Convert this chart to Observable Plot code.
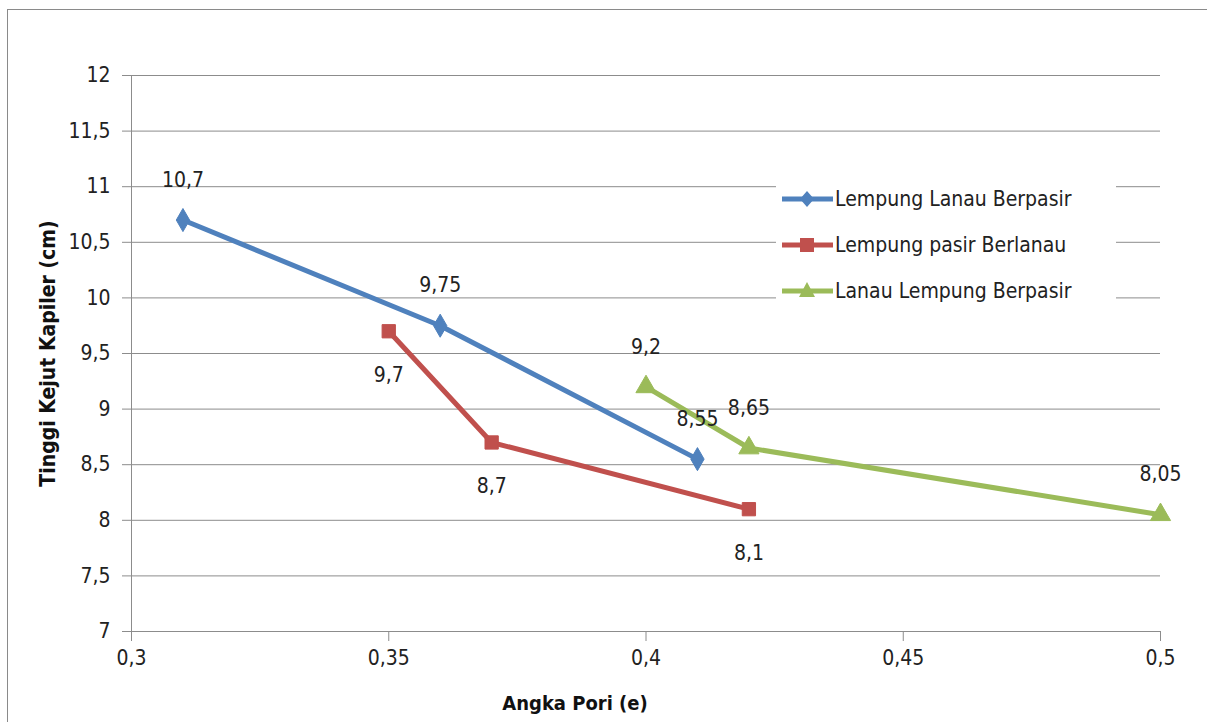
<!DOCTYPE html>
<html>
<head>
<meta charset="utf-8">
<script src="https://cdn.jsdelivr.net/npm/d3@7"></script>
<script src="https://cdn.jsdelivr.net/npm/@observablehq/plot@0.6"></script>
<style>
  html, body { margin: 0; padding: 0; background: #fff; }
  #wrap { position: relative; width: 1207px; height: 722px; overflow: hidden; font-family: "Liberation Sans Narrow", "DejaVu Sans Condensed", "Liberation Sans", sans-serif; }
  #border { position: absolute; left: 7px; top: 9px; width: 1240px; height: 760px; border: 1px solid #8a8a8a; box-sizing: border-box; }
  #chart { position: absolute; left: 0; top: 0; }
  #legend { position: absolute; left: 776px; top: 172px; width: 340px; height: 146px; background: #fff; }
  .item { position: absolute; left: 6px; height: 30px; display: flex; align-items: center; font-size: 21px; color: #222; }
  .item svg { margin-right: 2px; }
</style>
</head>
<body>
<div id="wrap">
  <div id="border"></div>
  <div id="chart"></div>
  <div id="legend"></div>
</div>
<script>
const seriesNames = ["Lempung Lanau Berpasir", "Lempung pasir Berlanau", "Lanau Lempung Berpasir"];
const seriesColors = ["#4F81BD", "#C0504D", "#9BBB59"];
const seriesSymbols = ["diamond", "square", "triangle"];

const blueX = [0.31, 0.36, 0.41];
const blueY = [10.7, 9.75, 8.55];
const redX = [0.35, 0.37, 0.42];
const redY = [9.7, 8.7, 8.1];
const greenX = [0.40, 0.42, 0.50];
const greenY = [9.2, 8.65, 8.05];

const xTicks = [0.3, 0.35, 0.4, 0.45, 0.5];
const yTicks = [7, 7.5, 8, 8.5, 9, 9.5, 10, 10.5, 11, 11.5, 12];

const xTitle = "Angka Pori (e)";
const yTitle = "Tinggi Kejut Kapiler (cm)";

const fmt = v => String(v).replace(".", ",");
const mk = (xs, ys, s) => xs.map((x, i) => ({x, y: ys[i], s}));
const blue = mk(blueX, blueY, seriesNames[0]);
const red = mk(redX, redY, seriesNames[1]);
const green = mk(greenX, greenY, seriesNames[2]);
const series = [blue, red, green];

const font = '"Liberation Sans Narrow", "DejaVu Sans Condensed", "Liberation Sans", sans-serif';

const marks = [
  Plot.gridY(yTicks, {stroke: "#8c8c8c", strokeOpacity: 1, strokeWidth: 1}),
  Plot.ruleX([0.3], {stroke: "#8c8c8c", strokeWidth: 1}),
  Plot.axisY(yTicks, {tickSize: 9, tickPadding: 12, tickFormat: fmt, stroke: "#8c8c8c", fontSize: 21, fill: "#222", label: null}),
  Plot.axisX(xTicks, {tickSize: 10, tickPadding: 9, tickFormat: fmt, stroke: "#8c8c8c", fontSize: 21, fill: "#222", label: null}),
];
series.forEach((d, i) => {
  marks.push(Plot.line(d, {x: "x", y: "y", stroke: seriesColors[i], strokeWidth: 5}));
  marks.push(Plot.dot(d, {x: "x", y: "y", symbol: seriesSymbols[i], fill: seriesColors[i], stroke: seriesColors[i], r: i === 0 ? 7 : 7.5, strokeWidth: 1}));
});
const labelDy = [-40, 44, -40];
series.forEach((d, i) => {
  marks.push(Plot.text(d, {x: "x", y: "y", text: v => fmt(v.y), dy: labelDy[i], fontSize: 21, fill: "#222", textAnchor: "middle", lineAnchor: "middle"}));
});
marks.push(Plot.text([xTitle], {frameAnchor: "bottom", dy: 72, dx: -71, fontSize: 20, fontWeight: "bold", fill: "#111", textAnchor: "middle", lineAnchor: "middle"}));
marks.push(Plot.text([yTitle], {frameAnchor: "left", dx: -83, rotate: -90, fontSize: 21, fontWeight: "bold", fill: "#111", textAnchor: "middle", lineAnchor: "middle"}));

const chart = Plot.plot({
  width: 1207,
  height: 722,
  marginLeft: 131,
  marginRight: 47,
  marginTop: 75,
  marginBottom: 91,
  x: {domain: [0.3, 0.5]},
  y: {domain: [7, 12]},
  style: {fontFamily: font, background: "transparent", overflow: "visible"},
  marks
});
document.getElementById("chart").appendChild(chart);

const legend = document.getElementById("legend");
const rowTops = [12, 58, 104];
seriesNames.forEach((name, i) => {
  const div = document.createElement("div");
  div.className = "item";
  div.style.top = rowTops[i] + "px";
  let sym;
  if (i === 0) sym = `<polygon points="25,7 32,15 25,23 18,15" fill="${seriesColors[i]}"/>`;
  else if (i === 1) sym = `<rect x="18" y="8" width="14" height="14" fill="${seriesColors[i]}"/>`;
  else sym = `<polygon points="25,6 33,21 17,21" fill="${seriesColors[i]}"/>`;
  div.innerHTML = `<svg width="51" height="30"><line x1="0" y1="15" x2="51" y2="15" stroke="${seriesColors[i]}" stroke-width="5"/>${sym}</svg><span>${name}</span>`;
  legend.appendChild(div);
});
</script>
</body>
</html>
